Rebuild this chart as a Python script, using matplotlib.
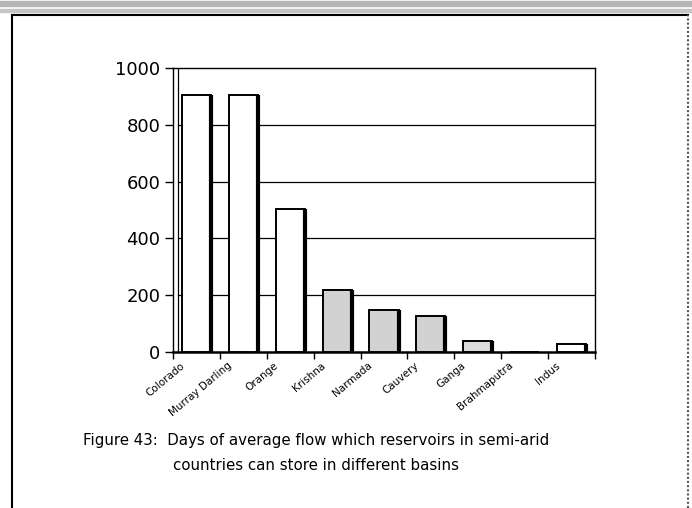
import matplotlib
matplotlib.use('Agg')
import matplotlib.pyplot as plt
from matplotlib.patches import Rectangle
from matplotlib.lines import Line2D

# data
basins = ['Colorado', 'Murray Darling', 'Orange', 'Krishna', 'Narmada',
          'Cauvery', 'Ganga', 'Brahmaputra', 'Indus']
days = [905, 905, 503, 220, 149, 128, 39, 0, 28]
fills = ['white', 'white', 'white', '#d2d2d2', '#d2d2d2', '#d2d2d2',
         '#dcdcdc', 'white', 'white']
y_ticks = [0, 200, 400, 600, 800, 1000]

fig = plt.figure(figsize=(6.92, 5.08), dpi=100)
ax = fig.add_axes([173/692, 1 - 352/508, (595-173)/692, (352-68)/508])

n = len(basins)
pos = [i + 0.5 for i in range(n)]
bars = ax.bar(pos, days, width=0.62, color=fills, edgecolor='black', linewidth=1.4, zorder=3)
# heavier right-hand edge, like the printed shadow
for b in bars:
    if b.get_height() > 0:
        ax.plot([b.get_x() + b.get_width()] * 2, [0, b.get_height()],
                color='black', lw=3, zorder=4, solid_capstyle='butt')

ax.set_xlim(0, n)
ax.set_ylim(0, 1000)
ax.set_yticks(y_ticks)
ax.set_yticklabels([str(v) for v in y_ticks], fontsize=13, family='DejaVu Sans')
ax.tick_params(axis='y', direction='out', length=6, width=1, pad=3)

# boundary ticks along the x axis, labels hung near each boundary
ax.set_xticks(range(n + 1), minor=True)
ax.tick_params(axis='x', which='minor', direction='out', length=5, width=1)
ax.set_xticks([i + 0.15 for i in range(n)])
ax.set_xticklabels(basins, rotation=40, ha='right', va='top',
                   rotation_mode='anchor', fontsize=7.5, family='DejaVu Sans')
ax.tick_params(axis='x', which='major', length=0, pad=6)

# gridlines starting from the inner wall line
for v in y_ticks[1:-1]:
    ax.plot([0.1, n], [v, v], color='black', lw=0.9, zorder=1)
ax.plot([0.1, 0.1], [0, 1000], color='black', lw=0.9, zorder=1)

for s in ['top', 'right', 'left']:
    ax.spines[s].set_linewidth(1.0)
ax.spines['bottom'].set_linewidth(1.8)

# page frame and top band
fig.add_artist(Line2D([12/692, 12/692], [0, 1 - 15/508], color='black', lw=1.5))
fig.add_artist(Line2D([12/692, 688/692], [1 - 15/508, 1 - 15/508], color='black', lw=1.5))
fig.add_artist(Line2D([688/692, 688/692], [0, 1 - 15/508], color='#555555', lw=1.5, ls=(0, (1, 1))))
fig.add_artist(Rectangle((0, 1 - 6/508), 1, 5/508, color='#b5b5b5', transform=fig.transFigure))
fig.add_artist(Rectangle((0, 1 - 12/508), 1, 3/508, color='#c5c5c5', transform=fig.transFigure))

fig.text(83/692, 1 - 441/508, 'Figure 43:  Days of average flow which reservoirs in semi-arid',
         fontsize=10.8, va='center', ha='left')
fig.text(173/692, 1 - 466/508, 'countries can store in different basins',
         fontsize=10.8, va='center', ha='left')

fig.savefig('out.png', dpi=100)
